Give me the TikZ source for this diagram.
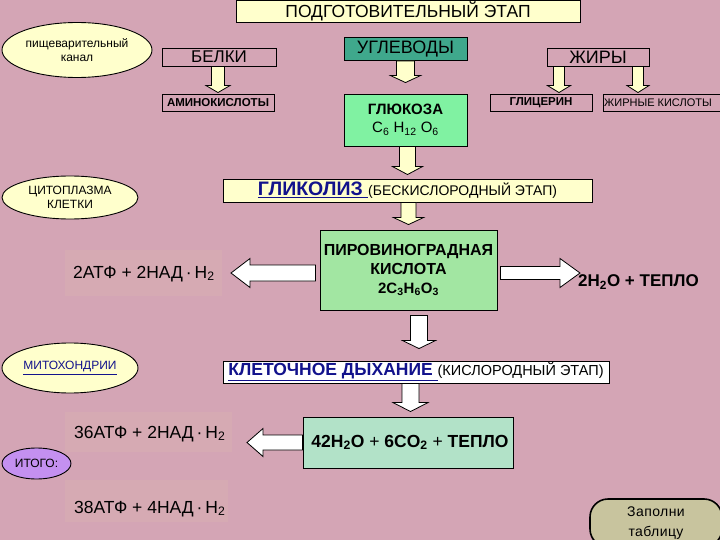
\documentclass[tikz,border=0pt]{standalone}
\usepackage{fontspec}
\setmainfont{Liberation Sans}
\usetikzlibrary{calc,shapes.geometric}
\definecolor{bg}{HTML}{D4A5B5}
\definecolor{paleyel}{HTML}{FFFFCC}
\definecolor{teal1}{HTML}{3FA88C}
\definecolor{green1}{HTML}{80F2A2}
\definecolor{green2}{HTML}{A2E6A2}
\definecolor{green3}{HTML}{B2E2C8}
\definecolor{lav}{HTML}{C490F0}
\definecolor{khaki}{HTML}{C8C49E}
\definecolor{navy}{HTML}{12128C}
\definecolor{glow}{HTML}{D6AAB3}
\newcommand\DArrowBlk[6]{\draw[#1] let \p1=(#2), \p2=(#3) in
 (\x2-#4,\y1) -- (\x2-#4,\y2+#6) -- (\x2-#5,\y2+#6) -- (\x2,\y2) -- (\x2+#5,\y2+#6) -- (\x2+#4,\y2+#6) -- (\x2+#4,\y1) -- cycle;}
\newcommand\LArrowBlk[6]{\draw[#1] let \p1=(#2), \p2=(#3) in
 (\x1,\y2-#4) -- (\x2+#6,\y2-#4) -- (\x2+#6,\y2-#5) -- (\x2,\y2) -- (\x2+#6,\y2+#5) -- (\x2+#6,\y2+#4) -- (\x1,\y2+#4) -- cycle;}
\newcommand\RArrowBlk[6]{\draw[#1] let \p1=(#2), \p2=(#3) in
 (\x1,\y2-#4) -- (\x2-#6,\y2-#4) -- (\x2-#6,\y2-#5) -- (\x2,\y2) -- (\x2-#6,\y2+#5) -- (\x2-#6,\y2+#4) -- (\x1,\y2+#4) -- cycle;}
\begin{document}
\begin{tikzpicture}[x=1pt,y=-1pt,
  box/.style={draw=black,line width=0.9pt,inner sep=0pt,align=center},
  oval/.style={ellipse,draw=black,line width=0.9pt,fill=paleyel,inner sep=0pt,align=center},
  yarrow/.style={draw=black,line width=0.8pt,fill=paleyel},
  warrow/.style={draw=black,line width=0.8pt,fill=white},
  plain/.style={inner sep=0pt,anchor=west}]
\path[use as bounding box] (0,0) rectangle (720,540);
\clip (0,0) rectangle (720,540);
\fill[bg] (0,0) rectangle (720,540);
% faint text panels
\fill[glow] (65,250) rectangle (222,296);
\fill[glow] (65,412) rectangle (232,452);
\fill[glow] (65,480) rectangle (228,522);

\node[box,fill=paleyel,minimum width=344,minimum height=22,font=\fontsize{17.5}{20}\selectfont] (title) at (408,11) {ПОДГОТОВИТЕЛЬНЫЙ ЭТАП};
\node[oval,minimum width=150,minimum height=55,font=\fontsize{12}{14}\selectfont] (dig) at (77,50) {пищеварительный\\канал};
\node[box,minimum width=114,minimum height=18,font=\fontsize{17}{20}\selectfont] (belki) at (219,57) {БЕЛКИ};
\node[box,minimum width=112,minimum height=17,font=\fontsize{11.5}{13}\selectfont\bfseries] (amino) at (218,102.5) {АМИНОКИСЛОТЫ};
\node[box,fill=teal1,minimum width=123,minimum height=23,font=\fontsize{18}{20}\selectfont] (ugl) at (405.5,49) {УГЛЕВОДЫ};
\node[box,fill=green1,minimum width=123,minimum height=52,font=\fontsize{15}{18}\selectfont] (gluk) at (405.5,120) {\textbf{ГЛЮКОЗА}\\C\textsubscript{6} H\textsubscript{12} O\textsubscript{6}};
\node[box,minimum width=102,minimum height=18,font=\fontsize{18}{20}\selectfont] (zhiry) at (598,57) {ЖИРЫ};
\node[box,minimum width=102,minimum height=17,font=\fontsize{11.5}{13}\selectfont\bfseries] (glic) at (541,102.5) {ГЛИЦЕРИН};
\node[box,minimum width=119,minimum height=17,font=\fontsize{11}{12}\selectfont] (zhk) at (662.5,102.5) {ЖИРНЫЕ КИСЛОТЫ\hspace{9pt}};

\node[oval,minimum width=136,minimum height=43,font=\fontsize{12}{14}\selectfont] (cyto) at (70,197.5) {ЦИТОПЛАЗМА\\КЛЕТКИ};
\node[box,fill=paleyel,minimum width=369,minimum height=23] (glik) at (407.5,190.5) {\fontsize{19.5}{20}\selectfont\bfseries\color{navy}\underline{ГЛИКОЛИЗ\ }\mdseries\color{black}\fontsize{14}{20}\selectfont (БЕСКИСЛОРОДНЫЙ ЭТАП)};
\node[box,fill=green2,minimum width=177,minimum height=80,font=\fontsize{16}{19}\selectfont\bfseries] (pvk) at (408.5,270) {ПИРОВИНОГРАДНАЯ\\КИСЛОТА\\{\fontsize{15}{19}\selectfont 2C\textsubscript{3}H\textsubscript{6}O\textsubscript{3}}};
\node[plain,font=\fontsize{17.5}{20}\selectfont] (atp1) at (73,274) {2АТФ + 2НАД\,·\,Н\textsubscript{2}};
\node[plain,font=\fontsize{17}{20}\selectfont\bfseries] (heat1) at (578,282) {2H\textsubscript{2}O + ТЕПЛО};

\node[oval,minimum width=136,minimum height=50,font=\fontsize{12}{14}\selectfont] (mito) at (70,368) {\color{navy}\underline{МИТОХОНДРИИ}};
\node[box,fill=white,minimum width=386,minimum height=22] (kled) at (416,372) {\fontsize{17.5}{20}\selectfont\bfseries\color{navy}\underline{КЛЕТОЧНОЕ ДЫХАНИЕ\ }\mdseries\color{black}\fontsize{14.5}{20}\selectfont (КИСЛОРОДНЫЙ ЭТАП)};
\node[box,fill=green3,minimum width=210,minimum height=51,font=\fontsize{17.5}{20}\selectfont\bfseries] (prod) at (408,442.5) {\hspace{4pt}42H\textsubscript{2}O {\mdseries +} 6CO\textsubscript{2} {\mdseries +} ТЕПЛО};
\node[plain,font=\fontsize{17.5}{20}\selectfont] (atp2) at (74,434) {36АТФ + 2НАД\,·\,Н\textsubscript{2}};
\node[oval,fill=lav,minimum width=69,minimum height=31,font=\fontsize{12}{14}\selectfont] (itogo) at (36.5,463.5) {ИТОГО:};
\node[plain,font=\fontsize{17.5}{20}\selectfont] (atp3) at (74,509) {38АТФ + 4НАД\,·\,Н\textsubscript{2}};
\node[box,fill=khaki,rounded corners=18pt,line width=1.6pt,minimum width=132,minimum height=48,font=\fontsize{14}{20}\selectfont\addfontfeatures{LetterSpace=3}] (fillt) at (656,523) {Заполни\\таблицу};

% vertical block arrows
\DArrowBlk{yarrow}{belki.south}{[yshift=1pt]amino.north}{6.5pt}{12pt}{7pt}
\DArrowBlk{yarrow}{ugl.south}{[yshift=11pt]gluk.north}{9pt}{15pt}{7pt}
\DArrowBlk{yarrow}{gluk.south}{[yshift=4pt]glik.north}{8pt}{15pt}{8pt}
\DArrowBlk{yarrow}{glik.south}{[yshift=5pt]pvk.north}{7.5pt}{15pt}{7pt}
\DArrowBlk{yarrow}{[xshift=-39pt]zhiry.south}{[xshift=18pt,yshift=1pt]glic.north}{5.5pt}{11.5pt}{7pt}
\DArrowBlk{yarrow}{[xshift=40pt]zhiry.south}{[xshift=-24.5pt,yshift=1pt]zhk.north}{5.5pt}{11pt}{7pt}
\DArrowBlk{warrow}{[yshift=-5pt]pvk.south}{[xshift=3pt,yshift=12pt]kled.north}{8.5pt}{16.5pt}{8pt}
\DArrowBlk{warrow}{kled.south}{[xshift=2.5pt,yshift=5pt]prod.north}{8.5pt}{17.5pt}{9pt}
% horizontal block arrows
\coordinate (tipL1) at (231,273);
\coordinate (tipR1) at (580,273);
\coordinate (tipL2) at (247,442.5);
\LArrowBlk{warrow}{[xshift=-4pt]pvk.west}{tipL1}{8pt}{14.5pt}{19pt}
\RArrowBlk{warrow}{[xshift=3pt]pvk.east}{tipR1}{6.5pt}{14.5pt}{20pt}
\LArrowBlk{warrow}{prod.west}{tipL2}{7.5pt}{14pt}{16pt}
\end{tikzpicture}
\end{document}
